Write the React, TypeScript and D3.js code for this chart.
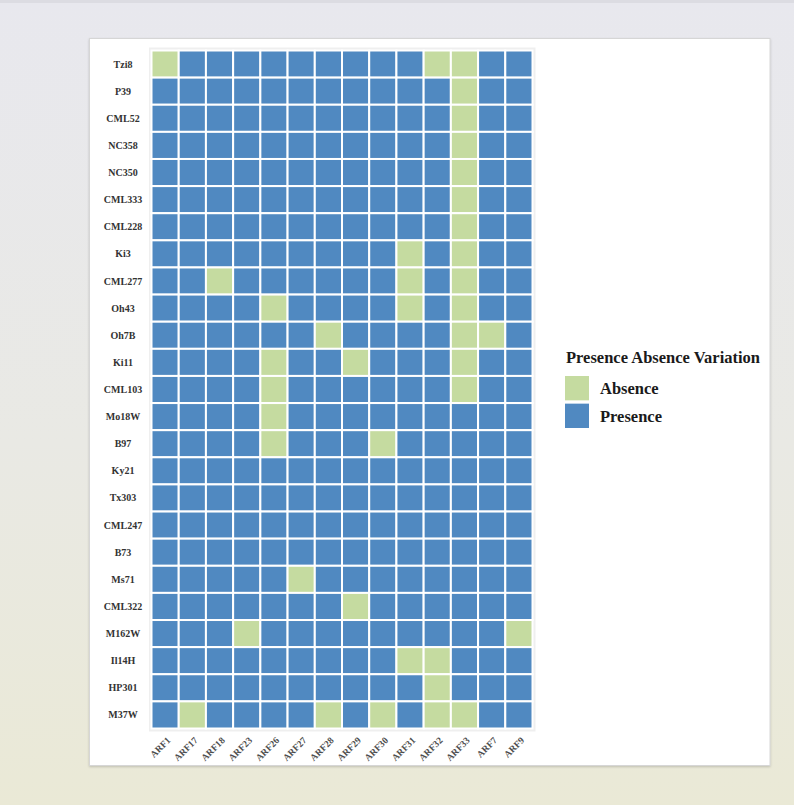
import React from "react";
import * as d3 from "d3";

const genes: string[] = ["ARF1", "ARF17", "ARF18", "ARF23", "ARF26", "ARF27", "ARF28", "ARF29", "ARF30", "ARF31", "ARF32", "ARF33", "ARF7", "ARF9"];

const lines: string[] = ["Tzi8", "P39", "CML52", "NC358", "NC350", "CML333", "CML228", "Ki3", "CML277", "Oh43", "Oh7B", "Ki11", "CML103", "Mo18W", "B97", "Ky21", "Tx303", "CML247", "B73", "Ms71", "CML322", "M162W", "Il14H", "HP301", "M37W"];

// 1 = Presence, 0 = Absence (columns follow `genes`)
const pav: number[][] = [
  [0, 1, 1, 1, 1, 1, 1, 1, 1, 1, 0, 0, 1, 1], // Tzi8
  [1, 1, 1, 1, 1, 1, 1, 1, 1, 1, 1, 0, 1, 1], // P39
  [1, 1, 1, 1, 1, 1, 1, 1, 1, 1, 1, 0, 1, 1], // CML52
  [1, 1, 1, 1, 1, 1, 1, 1, 1, 1, 1, 0, 1, 1], // NC358
  [1, 1, 1, 1, 1, 1, 1, 1, 1, 1, 1, 0, 1, 1], // NC350
  [1, 1, 1, 1, 1, 1, 1, 1, 1, 1, 1, 0, 1, 1], // CML333
  [1, 1, 1, 1, 1, 1, 1, 1, 1, 1, 1, 0, 1, 1], // CML228
  [1, 1, 1, 1, 1, 1, 1, 1, 1, 0, 1, 0, 1, 1], // Ki3
  [1, 1, 0, 1, 1, 1, 1, 1, 1, 0, 1, 0, 1, 1], // CML277
  [1, 1, 1, 1, 0, 1, 1, 1, 1, 0, 1, 0, 1, 1], // Oh43
  [1, 1, 1, 1, 1, 1, 0, 1, 1, 1, 1, 0, 0, 1], // Oh7B
  [1, 1, 1, 1, 0, 1, 1, 0, 1, 1, 1, 0, 1, 1], // Ki11
  [1, 1, 1, 1, 0, 1, 1, 1, 1, 1, 1, 0, 1, 1], // CML103
  [1, 1, 1, 1, 0, 1, 1, 1, 1, 1, 1, 1, 1, 1], // Mo18W
  [1, 1, 1, 1, 0, 1, 1, 1, 0, 1, 1, 1, 1, 1], // B97
  [1, 1, 1, 1, 1, 1, 1, 1, 1, 1, 1, 1, 1, 1], // Ky21
  [1, 1, 1, 1, 1, 1, 1, 1, 1, 1, 1, 1, 1, 1], // Tx303
  [1, 1, 1, 1, 1, 1, 1, 1, 1, 1, 1, 1, 1, 1], // CML247
  [1, 1, 1, 1, 1, 1, 1, 1, 1, 1, 1, 1, 1, 1], // B73
  [1, 1, 1, 1, 1, 0, 1, 1, 1, 1, 1, 1, 1, 1], // Ms71
  [1, 1, 1, 1, 1, 1, 1, 0, 1, 1, 1, 1, 1, 1], // CML322
  [1, 1, 1, 0, 1, 1, 1, 1, 1, 1, 1, 1, 1, 0], // M162W
  [1, 1, 1, 1, 1, 1, 1, 1, 1, 0, 0, 1, 1, 1], // Il14H
  [1, 1, 1, 1, 1, 1, 1, 1, 1, 1, 0, 1, 1, 1], // HP301
  [1, 0, 1, 1, 1, 1, 0, 1, 0, 1, 0, 0, 1, 1], // M37W
];

const legendTitle = "Presence Absence Variation";
const states: string[] = ["Absence", "Presence"];
const stateColors: string[] = ["#c5dba0", "#5089c1"];

const W = 794;
const H = 805;
const FONT = "'Liberation Serif', 'Times New Roman', serif";

export default function App() {
  const x = d3.scaleBand<string>().domain(genes).range([151.5, 532.5]).padding(0);
  const y = d3.scaleBand<string>().domain(lines).range([50.5, 728.5]).padding(0);
  const color = d3.scaleOrdinal<string, string>().domain(states).range(stateColors);
  const legY = d3.scaleBand<string>().domain(states).range([375.5, 428.5]).paddingInner(0.08);

  const cells: { line: string; gene: string; state: string }[] = [];
  lines.forEach((ln, i) => {
    genes.forEach((g, j) => {
      cells.push({ line: ln, gene: g, state: pav[i][j] === 1 ? "Presence" : "Absence" });
    });
  });

  return (
    <svg
      width={W}
      height={H}
      style={{ position: "absolute", left: 0, top: 0, display: "block" }}
      xmlns="http://www.w3.org/2000/svg"
    >
      <defs>
        <linearGradient id="bg" x1="0" y1="0" x2="0" y2="1">
          <stop offset="0" stopColor="#e8e8ee" />
          <stop offset="0.55" stopColor="#e9e9e4" />
          <stop offset="1" stopColor="#eae9d6" />
        </linearGradient>
        <filter id="shadow" x="-5%" y="-5%" width="110%" height="110%">
          <feDropShadow dx="0" dy="1" stdDeviation="1.2" floodColor="#000" floodOpacity="0.18" />
        </filter>
      </defs>
      <rect x={0} y={0} width={W} height={H} fill="url(#bg)" />
      <rect x={0} y={0} width={W} height={3} fill="#dcdce2" />
      <rect x={89.5} y={38.5} width={680.5} height={727} fill="#ffffff" stroke="#d6d6d6" strokeWidth={1} filter="url(#shadow)" />

      {/* panel background */}
      <rect x={149} y={47.5} width={386.5} height={684} fill="#efefef" />

      {/* tiles */}
      <g>
        {cells.map((c) => (
          <rect
            key={c.line + "-" + c.gene}
            x={x(c.gene)!}
            y={y(c.line)!}
            width={x.bandwidth()}
            height={y.bandwidth()}
            fill={color(c.state)}
            stroke="#ffffff"
            strokeWidth={2}
          />
        ))}
      </g>

      {/* y labels */}
      <g fontFamily={FONT} fontWeight="bold" fontSize={10} fill="#333333" textAnchor="middle">
        {lines.map((ln) => (
          <text key={ln} x={123} y={y(ln)! + y.bandwidth() / 2 + 3.5}>
            {ln}
          </text>
        ))}
      </g>

      {/* x labels */}
      <g fontFamily={FONT} fontWeight="bold" fontSize={9.5} fill="#4d4d4d" textAnchor="end">
        {genes.map((g) => {
          const cx = x(g)! + x.bandwidth() / 2 + 6;
          const cy = 741;
          return (
            <text key={g} x={cx} y={cy} transform={`rotate(-45 ${cx} ${cy})`}>
              {g}
            </text>
          );
        })}
      </g>

      {/* legend */}
      <g fontFamily={FONT} fontWeight="bold" fill="#1a1a1a">
        <text x={566} y={363} fontSize={16.5}>
          {legendTitle}
        </text>
        {states.map((s) => (
          <g key={s}>
            <rect x={564.5} y={legY(s)!} width={25} height={legY.bandwidth()} fill={color(s)} stroke="#ffffff" strokeWidth={1} />
            <text x={600} y={legY(s)! + legY.bandwidth() / 2 + 6} fontSize={16.5}>
              {s}
            </text>
          </g>
        ))}
      </g>
    </svg>
  );
}
